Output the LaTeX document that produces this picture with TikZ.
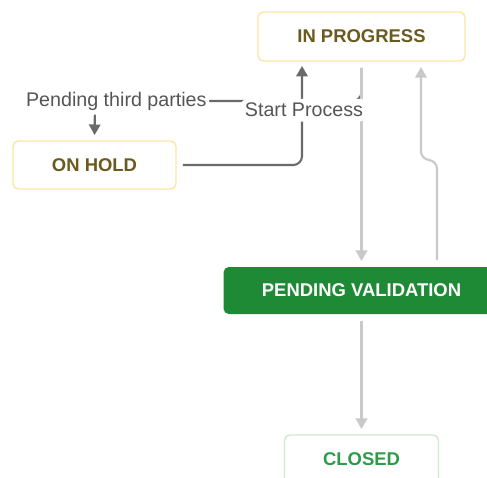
\documentclass[tikz,border=0pt]{standalone}
\usepackage{fontspec}
\setmainfont{Liberation Sans}
\usetikzlibrary{arrows.meta}
\definecolor{holdline}{HTML}{FCE5A4}
\definecolor{holdtext}{HTML}{6B5A1E}
\definecolor{valfill}{HTML}{1F8A36}
\definecolor{doneline}{HTML}{CDEBD0}
\definecolor{donetext}{HTML}{2E9A4A}
\definecolor{lightedge}{HTML}{C9C9C9}
\definecolor{darkedge}{HTML}{6A6A6A}
\tikzset{
  status/.style={rounded corners=3pt, inner sep=0pt, line width=0.8pt, font=\fontsize{10.5}{12}\selectfont\bfseries},
  waiting/.style={status, draw=holdline, fill=white, text=holdtext},
  lite/.style={draw=lightedge, line width=1.2pt, rounded corners=5pt, shorten <=3.5pt, shorten >=3pt, -{Triangle[length=6pt,width=6.5pt]}},
  dark/.style={draw=darkedge, line width=1.2pt, rounded corners=5pt, -{Triangle[length=6pt,width=6.5pt]}},
  tag/.style={fill=white, text=darkedge!80!black, inner xsep=1.5pt, inner ysep=2.5pt, font=\fontsize{11.2}{13}\selectfont}
}
\begin{document}
\begin{tikzpicture}[x=0.02cm,y=-0.02cm]
\useasboundingbox (0,0) rectangle (487,477);
\clip (0,0) rectangle (487,477);
				\node[waiting, minimum width=4.14cm, minimum height=0.98cm](inprog) at (361.5,36.5){IN PROGRESS};
				\node[waiting, minimum width=3.26cm, minimum height=0.96cm](onhold) at (94.5,165){ON HOLD};
				\node[status, fill=valfill, text=white, minimum width=5.52cm, minimum height=0.94cm](pendval) at (361.5,290.5){PENDING VALIDATION};
				\node[status, draw=doneline, fill=white, text=donetext, minimum width=3.08cm, minimum height=0.96cm](closed) at (361.5,459){CLOSED};
				% to on hold
				\draw[dark, shorten <=3.5pt, shorten >=3pt](inprog.south) to (361.5,101) to node[tag, pos=0.92]{Pending third parties} (95,101) to (onhold.north);
				% grey flow
				\draw[lite](inprog.south) to (pendval.north);
				\draw[lite]([xshift=1.51cm]pendval.north) to (437,160) to (421,160) to ([xshift=1.19cm]inprog.south);
				\draw[lite](pendval.south) to (closed.north);
				% back to work
				\draw[dark, shorten <=3.5pt, shorten >=2.5pt](onhold.east) to (302,165) to node[tag, pos=0.53, xshift=0.04cm, inner xsep=3pt]{Start Process} (302,61.5);
\end{tikzpicture}
\end{document}
